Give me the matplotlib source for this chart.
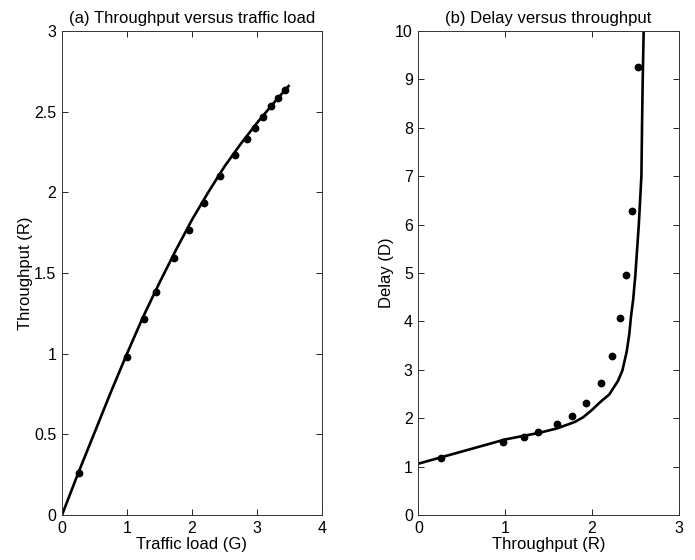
import matplotlib
matplotlib.use("Agg")
import matplotlib.pyplot as plt

plt.rcParams["font.family"] = ["Liberation Sans", "DejaVu Sans"]

# measured points (dots)
load_G = [0.261, 1.003, 1.258, 1.453, 1.719, 1.959, 2.189, 2.435, 2.655,
          2.839, 2.972, 3.095, 3.223, 3.325, 3.427]
thru_R = [0.262, 0.981, 1.213, 1.380, 1.593, 1.769, 1.936, 2.099, 2.231,
          2.329, 2.397, 2.465, 2.533, 2.583, 2.634]
delay_D = [1.185, 1.508, 1.617, 1.708, 1.880, 2.052, 2.307, 2.727, 3.292,
           4.063, 4.952, 6.288, 9.256]

# analytical curves (solid)
curve_G = [0, 0.25, 0.5, 0.75, 1.0, 1.25, 1.5, 1.75, 2.0, 2.25, 2.5, 2.75,
           3.0, 3.25, 3.5]
curve_R = [0, 0.26, 0.51, 0.76, 1.0, 1.23, 1.44, 1.64, 1.83, 2.0, 2.16,
           2.30, 2.43, 2.55, 2.665]
curve_Rb = [0, 0.5, 1.0, 1.2, 1.4, 1.6, 1.8, 1.9, 2.0, 2.1, 2.2, 2.3, 2.35,
            2.4, 2.43, 2.45, 2.475, 2.5, 2.54, 2.57, 2.577, 2.585, 2.596, 2.605]
curve_D = [1.06, 1.31, 1.56, 1.63, 1.70, 1.79, 1.92, 2.02, 2.17, 2.34, 2.49,
           2.77, 2.98, 3.37, 3.73, 4.1, 4.45, 4.95, 6.0, 7.0, 8.0, 9.0, 10.0, 11.0]

fig = plt.figure(figsize=(6.95, 5.6), dpi=100)
ax1 = fig.add_axes([0.0892, 0.0804, 0.3741, 0.8643])
ax2 = fig.add_axes([0.6019, 0.0804, 0.3747, 0.8643])

lab_fs = 12
tick_fs = 11.5
title_fs = 12

ax1.plot(curve_G, curve_R, color="black", lw=1.9, solid_capstyle="butt")
ax1.plot(load_G, thru_R, "o", color="black", ms=4.6)
ax1.set_xlim(0, 4)
ax1.set_ylim(0, 3)
ax1.set_xticks([0, 1, 2, 3, 4])
ax1.set_yticks([0, 0.5, 1, 1.5, 2, 2.5, 3])
ax1.set_yticklabels(["0", "0.5", "1", "1.5", "2", "2.5", "3"])
ax1.set_xlabel("Traffic load (G)", fontsize=lab_fs, labelpad=1)
ax1.set_ylabel("Throughput (R)", fontsize=lab_fs, labelpad=1)
ax1.set_title("(a) Throughput versus traffic load", fontsize=title_fs, pad=6)

ax2.plot(curve_Rb, curve_D, color="black", lw=1.9, solid_capstyle="butt")
ax2.plot(thru_R[:len(delay_D)], delay_D, "o", color="black", ms=4.6)
ax2.set_xlim(0, 3)
ax2.set_ylim(0, 10)
ax2.set_xticks([0, 1, 2, 3])
ax2.set_yticks(range(0, 11))
ax2.set_xlabel("Throughput (R)", fontsize=lab_fs, labelpad=1)
ax2.set_ylabel("Delay (D)", fontsize=lab_fs, labelpad=1)
ax2.set_title("(b) Delay versus throughput", fontsize=title_fs, pad=6)

for ax in (ax1, ax2):
    ax.tick_params(direction="in", top=True, right=True, length=4,
                   width=0.6, labelsize=tick_fs)
    ax.tick_params(axis="x", pad=4)
    ax.tick_params(axis="y", pad=4)
    for sp in ax.spines.values():
        sp.set_linewidth(0.7)
        sp.set_color("#333333")

fig.savefig("out.png", dpi=100)
